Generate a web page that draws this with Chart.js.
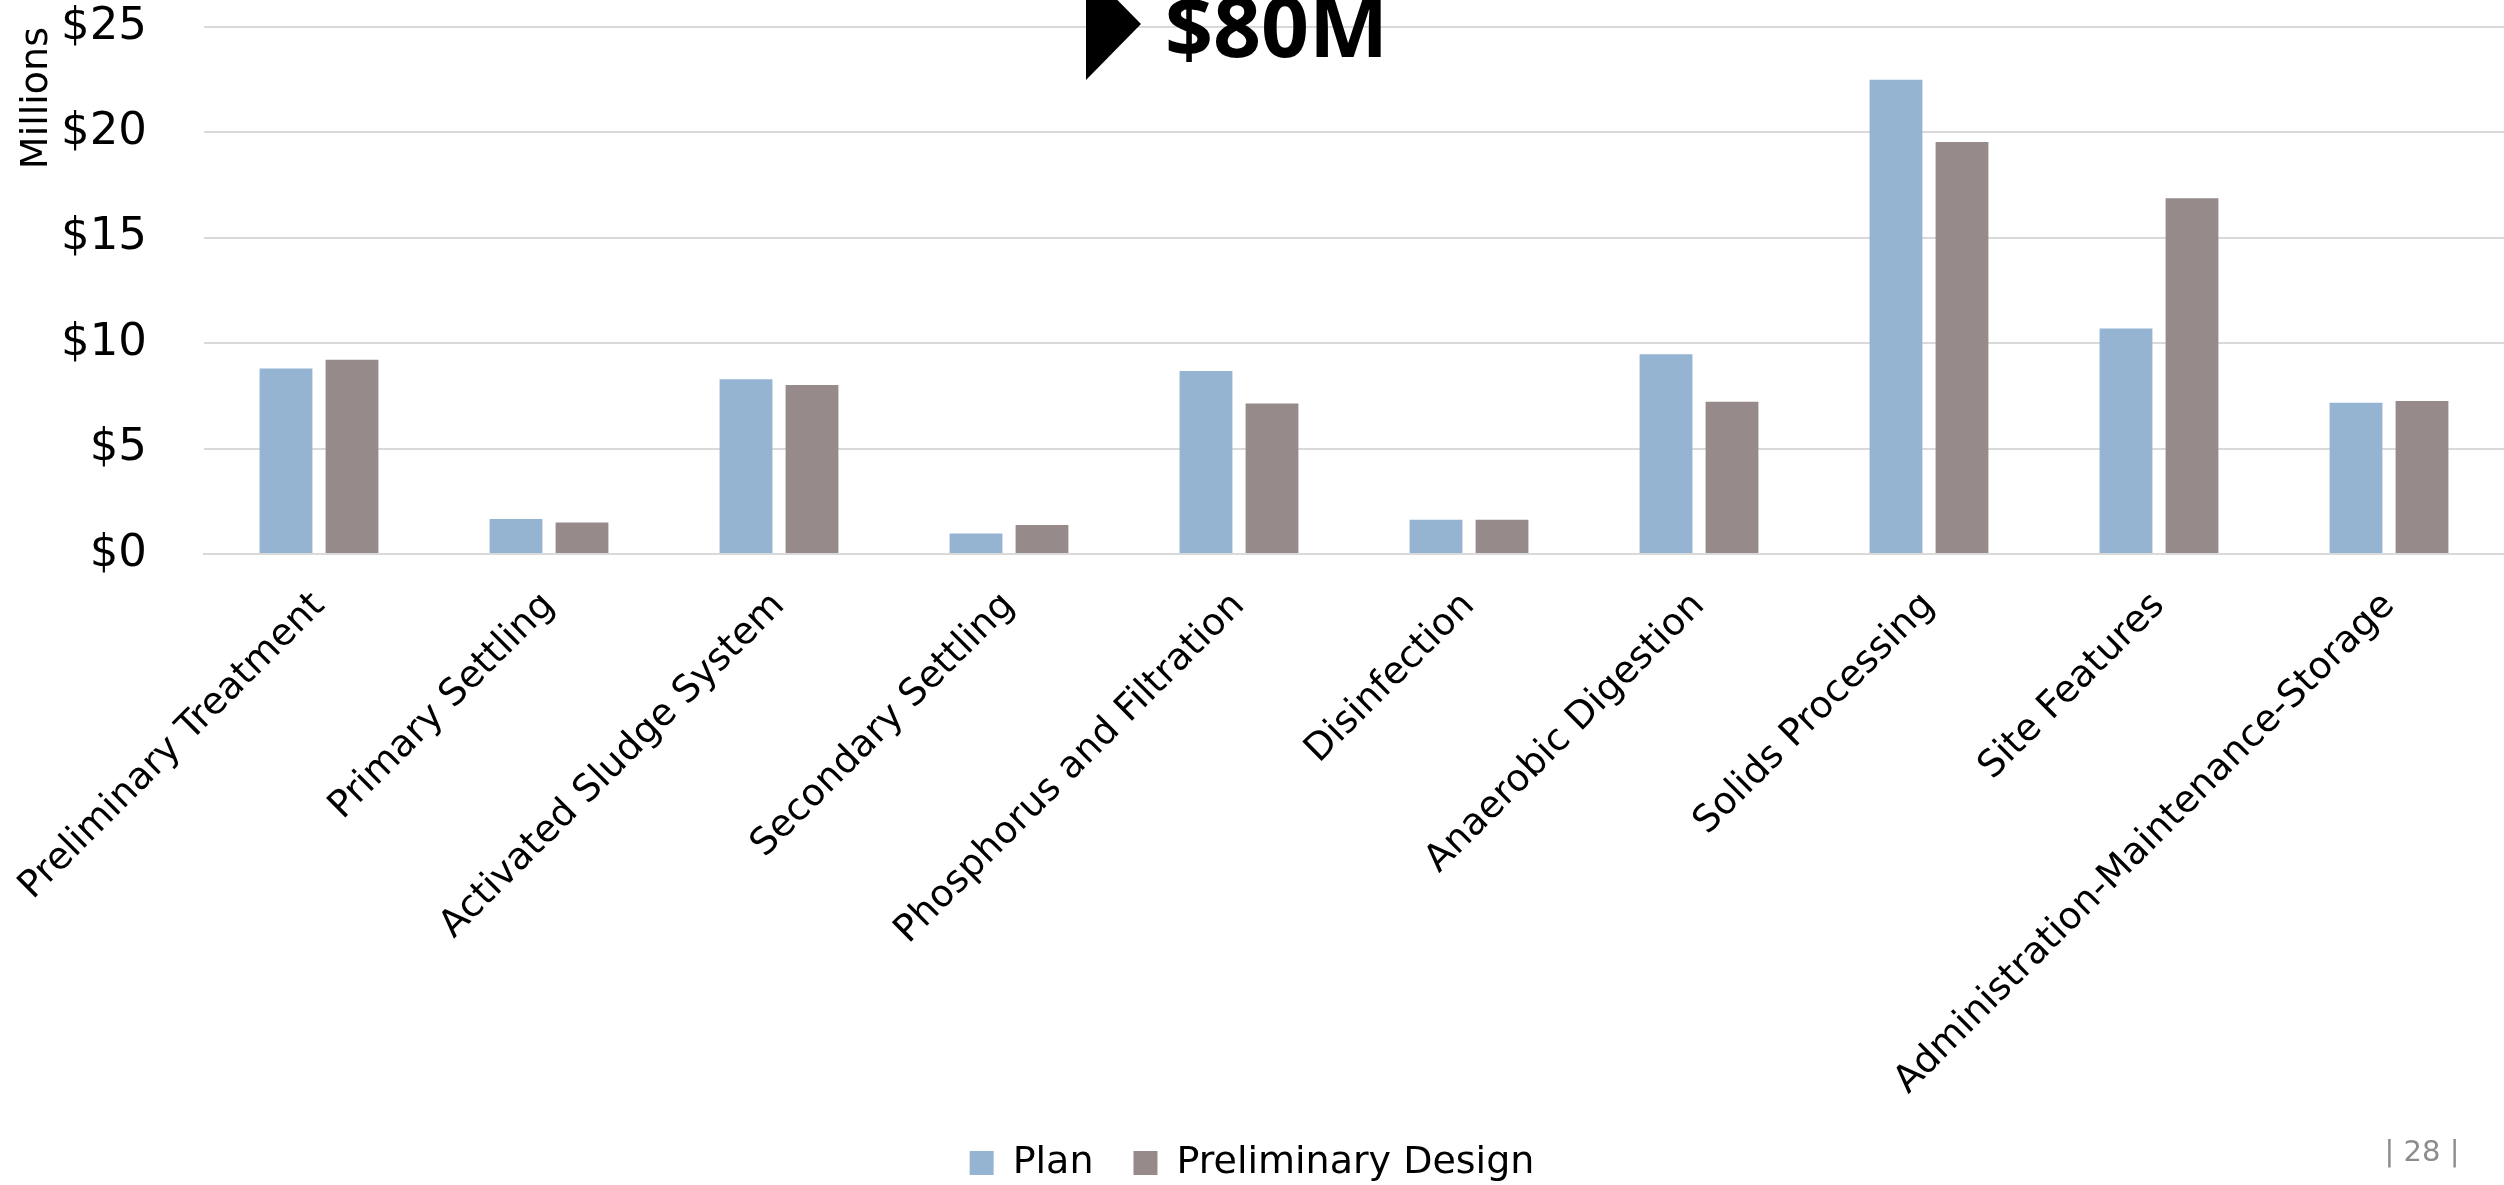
<!DOCTYPE html>
<html>
<head>
<meta charset="utf-8">
<title>Cost by Process Area</title>
<script src="https://cdn.jsdelivr.net/npm/chart.js@4.4.1/dist/chart.umd.min.js"></script>
<style>
  html, body { margin: 0; padding: 0; background: #fff; }
  .chart-wrap { position: relative; width: 2504px; height: 1185px; }
</style>
</head>
<body>
<div class="chart-wrap"><canvas class="cost-chart"></canvas></div>
<script>
// process areas along the x axis
const categories = [
  "Preliminary Treatment",
  "Primary Settling",
  "Activated Sludge System",
  "Secondary Settling",
  "Phosphorus and Filtration",
  "Disinfection",
  "Anaerobic Digestion",
  "Solids Processing",
  "Site Features",
  "Administration-Maintenance-Storage",
];

// costs in millions of dollars
const planValues = [8.8, 1.66, 8.29, 0.97, 8.68, 1.63, 9.48, 22.5, 10.7, 7.17];
const designValues = [9.22, 1.5, 8.02, 1.38, 7.14, 1.63, 7.22, 19.54, 16.88, 7.26];

const seriesNames = ["Plan", "Preliminary Design"];
const seriesColors = ["#95b4d2", "#968b8a"];

const yMin = 0;
const yMax = 25;
const yStep = 5;

const totalLabel = "$80M";
const pageLabel = "| 28 |";

const gridColor = "#d9d9d9";
const fontFamily = '"DejaVu Sans", sans-serif';

// big total callout at the top and the page number in the corner
const slideExtras = {
  id: "slideExtras",
  afterDraw(chart) {
    const ctx = chart.ctx;
    ctx.save();
    ctx.fillStyle = "#000";
    ctx.beginPath();
    ctx.moveTo(1086, -32);
    ctx.lineTo(1141, 24);
    ctx.lineTo(1086, 80);
    ctx.closePath();
    ctx.fill();

    ctx.font = '700 84px "Open Sans", sans-serif';
    ctx.textAlign = "left";
    ctx.textBaseline = "alphabetic";
    ctx.fillText(totalLabel, 1165, 57);

    ctx.fillStyle = "#8c8c8c";
    ctx.font = '29px "DejaVu Sans", sans-serif';
    ctx.textAlign = "center";
    ctx.textBaseline = "middle";
    ctx.fillText(pageLabel, 2422, 1153);
    ctx.restore();
  },
};

const costChart = document.querySelector(".cost-chart");

new Chart(costChart, {
  type: "bar",
  data: {
    labels: categories,
    datasets: [
      {
        label: seriesNames[0],
        data: planValues,
        backgroundColor: seriesColors[0],
        categoryPercentage: 0.574,
        barPercentage: 0.8,
      },
      {
        label: seriesNames[1],
        data: designValues,
        backgroundColor: seriesColors[1],
        categoryPercentage: 0.574,
        barPercentage: 0.8,
      },
    ],
  },
  options: {
    responsive: true,
    maintainAspectRatio: false,
    animation: false,
    layout: { padding: { top: 27, right: 0, bottom: -7, left: 0 } },
    plugins: {
      tooltip: { enabled: false },
      legend: {
        position: "bottom",
        labels: {
          color: "#000",
          font: { family: fontFamily, size: 38 },
          boxWidth: 24,
          boxHeight: 24,
          padding: 40,
        },
      },
    },
    scales: {
      x: {
        grid: { display: false, drawTicks: false },
        border: { display: true, color: gridColor, width: 2 },
        ticks: {
          color: "#000",
          font: { family: fontFamily, size: 37.5 },
          minRotation: 45,
          maxRotation: 45,
          autoSkip: false,
          padding: 30,
        },
        afterFit(scale) {
          // legend takes 38 + 40 + 10; keep the plot bottom at y = 554
          scale.height = 550;
          scale.paddingLeft = 0;
          scale.paddingRight = 0;
        },
      },
      y: {
        min: yMin,
        max: yMax,
        grid: { color: gridColor, lineWidth: 2, drawTicks: false },
        border: { display: false },
        ticks: {
          stepSize: yStep,
          color: "#000",
          font: { family: fontFamily, size: 45 },
          padding: 57,
          callback: (value) => "$" + value,
        },
        title: {
          display: true,
          text: "Millions",
          align: "end",
          color: "#000",
          font: { family: fontFamily, size: 38 },
          padding: { top: 14, bottom: 0 },
        },
        afterFit(scale) {
          scale.width = 204;
          scale.paddingTop = 0;
          scale.paddingBottom = 0;
        },
      },
    },
  },
  plugins: [slideExtras],
});
</script>
</body>
</html>
